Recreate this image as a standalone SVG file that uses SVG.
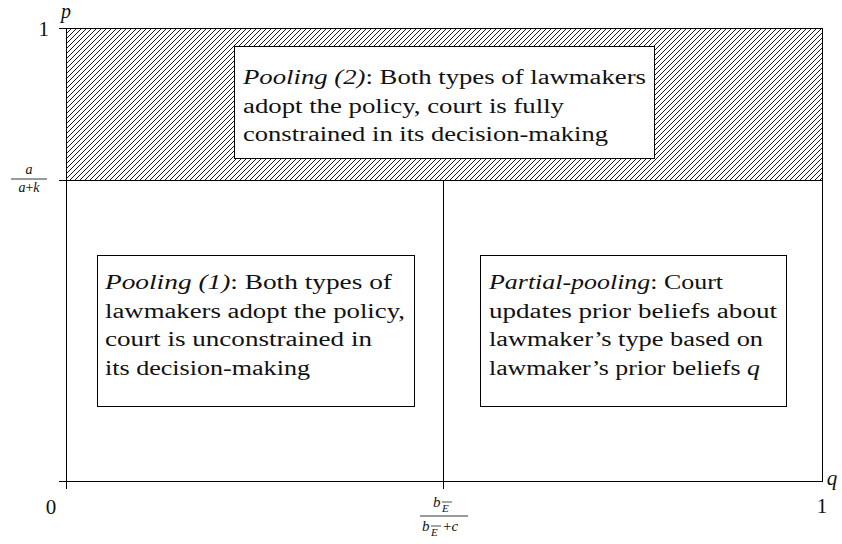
<svg xmlns="http://www.w3.org/2000/svg" width="842" height="544" viewBox="0 0 842 544">
<defs>
<pattern id="hatch" patternUnits="userSpaceOnUse" width="5" height="5">
<path d="M0,5 L5,0 M-1,1 L1,-1 M4,6 L6,4" stroke="#000" stroke-width="0.9"/>
</pattern>
</defs>
<style>
.ax{stroke:#000;stroke-width:1;fill:none}
.box{fill:#fff;stroke:#000;stroke-width:1}
.t{font-size:20px;fill:#111}
.i{font-style:italic}
.m{fill:#111}
</style>
<rect x="66" y="28" width="756" height="152" fill="url(#hatch)"/>
<g id="connectors">
<line class="ax" x1="59" y1="28.5" x2="822" y2="28.5"/>
<line class="ax" x1="59" y1="180.5" x2="822" y2="180.5"/>
<line class="ax" x1="59" y1="481.5" x2="822" y2="481.5"/>
<line class="ax" x1="66.5" y1="28" x2="66.5" y2="489"/>
<line class="ax" x1="822.5" y1="28" x2="822.5" y2="482"/>
<line class="ax" x1="443.5" y1="180" x2="443.5" y2="489"/>
</g>
<g id="axis-labels" font-family="Liberation Serif, DejaVu Serif, serif">
<text class="m i" x="66" y="18" font-size="20" text-anchor="middle">p</text>
<text class="m" x="49" y="36" font-size="21" text-anchor="end">1</text>
<text class="m i" x="29" y="174" font-size="14" text-anchor="middle">a</text>
<line x1="11" y1="179" x2="47" y2="179" stroke="#000" stroke-width="0.8"/>
<text class="m" x="29" y="192" font-size="14" text-anchor="middle"><tspan font-style="italic">a</tspan>+<tspan font-style="italic">k</tspan></text>
<text class="m" x="51" y="514" font-size="21" text-anchor="middle">0</text>
<text class="m" x="822" y="513" font-size="21" text-anchor="middle">1</text>
<text class="m i" x="832" y="485" font-size="21" text-anchor="middle">q</text>
<text class="m i" x="433" y="507" font-size="15">b</text>
<text class="m i" x="442" y="512" font-size="11">E</text>
<line x1="442" y1="502" x2="452" y2="502" stroke="#000" stroke-width="0.7"/>
<line x1="420" y1="516" x2="468" y2="516" stroke="#000" stroke-width="0.8"/>
<text class="m i" x="422" y="531" font-size="15">b</text>
<text class="m i" x="431" y="536" font-size="11">E</text>
<line x1="431" y1="526" x2="441" y2="526" stroke="#000" stroke-width="0.7"/>
<text class="m" x="443" y="531" font-size="15">+<tspan font-style="italic">c</tspan></text>
</g>
<g id="pooling2" font-family="Liberation Serif, DejaVu Serif, serif">
<rect class="box" x="234.5" y="46.5" width="420" height="112"/>
<text class="t" x="243" y="84" textLength="403" lengthAdjust="spacingAndGlyphs"><tspan class="i">Pooling (2)</tspan>: Both types of lawmakers</text>
<text class="t" x="243" y="113" textLength="321" lengthAdjust="spacingAndGlyphs">adopt the policy, court is fully</text>
<text class="t" x="243" y="141" textLength="365" lengthAdjust="spacingAndGlyphs">constrained in its decision-making</text>
</g>
<g id="pooling1" font-family="Liberation Serif, DejaVu Serif, serif">
<rect class="box" x="97.5" y="255.5" width="317" height="151"/>
<text class="t" x="105" y="289" textLength="287" lengthAdjust="spacingAndGlyphs"><tspan class="i">Pooling (1)</tspan>: Both types of</text>
<text class="t" x="105" y="318" textLength="300" lengthAdjust="spacingAndGlyphs">lawmakers adopt the policy,</text>
<text class="t" x="105" y="346" textLength="267" lengthAdjust="spacingAndGlyphs">court is unconstrained in</text>
<text class="t" x="105" y="375" textLength="205" lengthAdjust="spacingAndGlyphs">its decision-making</text>
</g>
<g id="partial" font-family="Liberation Serif, DejaVu Serif, serif">
<rect class="box" x="480.5" y="255.5" width="306" height="151"/>
<text class="t" x="489" y="289" textLength="234" lengthAdjust="spacingAndGlyphs"><tspan class="i">Partial-pooling</tspan>: Court</text>
<text class="t" x="489" y="318" textLength="288" lengthAdjust="spacingAndGlyphs">updates prior beliefs about</text>
<text class="t" x="489" y="346" textLength="274" lengthAdjust="spacingAndGlyphs">lawmaker’s type based on</text>
<text class="t" x="489" y="375" textLength="271" lengthAdjust="spacingAndGlyphs">lawmaker’s prior beliefs <tspan class="i">q</tspan></text>
</g>
</svg>
